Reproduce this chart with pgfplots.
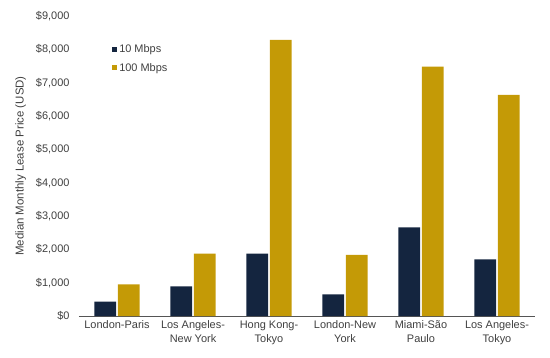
\documentclass[border=0pt]{standalone}
\usepackage{pgfplots}
\pgfplotsset{compat=1.18}
\usepackage{fontspec}
\setmainfont{Liberation Sans}
\definecolor{navy}{HTML}{14253F}
\definecolor{gold}{HTML}{C49A06}
\definecolor{axgray}{HTML}{555555}
\definecolor{txtgray}{HTML}{404040}
\begin{document}
\begin{tikzpicture}
\begin{axis}[
  name=ax,
  scale only axis,
  width=456bp, height=300bp,
  at={(0,0)}, anchor=south west,
  ybar, bar width=0.285, bar shift auto,
  ymin=0, ymax=9000,
  xmin=-0.5, xmax=5.5,
  xtick={0,1,2,3,4,5},
  xticklabels={London-Paris, {Los Angeles-\\New York}, {Hong Kong-\\Tokyo}, {London-New\\York}, {Miami-São\\Paulo}, {Los Angeles-\\Tokyo}},
  xticklabel style={align=center, font=\fontsize{11}{14}\selectfont, text=txtgray, yshift=-1bp},
  ytick={0,1000,2000,3000,4000,5000,6000,7000,8000,9000},
  yticklabels={\$0,\$1{,}000,\$2{,}000,\$3{,}000,\$4{,}000,\$5{,}000,\$6{,}000,\$7{,}000,\$8{,}000,\$9{,}000},
  yticklabel style={font=\fontsize{11}{13}\selectfont, text=txtgray, xshift=-6bp},
  ylabel={Median Monthly Lease Price (USD)},
  ylabel shift=3bp,
  ylabel style={font=\fontsize{11.5}{13}\selectfont, text=txtgray},
  axis x line*=bottom, axis y line*=left,
  x axis line style={draw=axgray, line width=0.9bp, -},
  y axis line style={draw=none},
  major tick length=0pt,
  ytick style={draw=none}, xtick style={draw=none},
  legend image code/.code={\fill[#1] (0bp,-2.5bp) rectangle (5bp,2.5bp);},
  legend style={draw=none, fill=none, at={(rel axis cs:0.066,0.918)}, anchor=north west,
    font=\fontsize{11}{13}\selectfont, text=txtgray, row sep=5bp,
    /tikz/every even column/.append style={column sep=0bp}},
  legend cell align=left,
  clip=false,
]
\addplot[fill=navy, draw=none] coordinates {(0,430) (1,890) (2,1870) (3,650) (4,2660) (5,1700)};
\addplot[fill=gold, draw=none] coordinates {(0,950) (1,1870) (2,8280) (3,1830) (4,7480) (5,6630)};
\legend{10 Mbps, 100 Mbps}
\end{axis}
\pgfresetboundingbox
\path (-79bp,-42bp) rectangle (471bp,316bp);
\end{tikzpicture}
\end{document}
